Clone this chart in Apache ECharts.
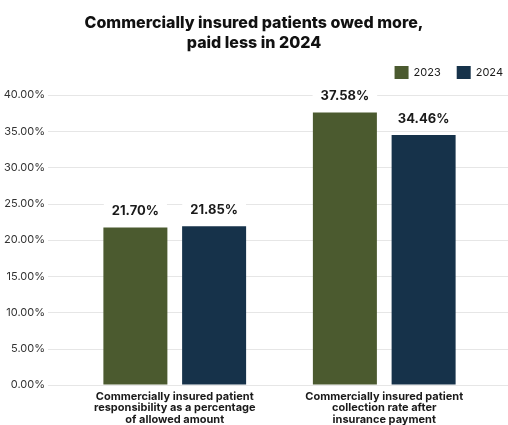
<!DOCTYPE html>
<html><head><meta charset="utf-8">
<script src="https://cdn.jsdelivr.net/npm/echarts@6/dist/echarts.min.js"></script>
<style>html,body{margin:0;padding:0;background:#fff}#c{width:508px;height:425px}</style>
</head><body><div id="c"></div>
<script>
const categories = ["Commercially insured patient\nresponsibility as a percentage\nof allowed amount", "Commercially insured patient\ncollection rate after\ninsurance payment"];
const seriesNames = ["2023", "2024"];
const values2023 = [21.70, 37.58];
const values2024 = [21.85, 34.46];
const yTicks = [0, 5, 10, 15, 20, 25, 30, 35, 40];

const FONT = 'Inter, "Noto Sans", sans-serif';
const colors = ['#4b5a2f', '#16324a'];
const chart = echarts.init(document.getElementById('c'), null, {renderer: 'canvas'});
const labelOpt = {
  show: true, position: 'top', distance: 6,
  formatter: p => p.value.toFixed(2) + '%',
  fontFamily: FONT, fontWeight: 'bold', fontSize: 13, color: '#1a1a1a',
  backgroundColor: '#fff', padding: [2, 8, 4, 8]
};
chart.setOption({
  animation: false,
  title: {
    text: 'Commercially insured patients owed more,\npaid less in 2024',
    left: 'center', top: 8,
    textStyle: {fontFamily: FONT, fontWeight: 800, fontSize: 16, color: '#111', lineHeight: 20}
  },
  legend: {
    data: seriesNames, right: 0, top: 61, itemWidth: 14, itemHeight: 13, itemGap: 16,
    icon: 'rect',
    textStyle: {fontFamily: FONT, fontSize: 11, color: '#1a1a1a'}
  },
  grid: [
    {left: 48, right: 0, top: 95, bottom: 40},
    {left: 70, right: 19, top: 95, bottom: 40}
  ],
  xAxis: [
    {type: 'category', gridIndex: 0, data: [''], show: false},
    {type: 'category', gridIndex: 1, data: categories,
     axisLine: {show: false}, axisTick: {show: false},
     axisLabel: {fontFamily: FONT, fontWeight: 'bold', fontSize: 11, color: '#1a1a1a', lineHeight: 11.5, margin: 6, interval: 0}}
  ],
  yAxis: [
    {type: 'value', gridIndex: 0, min: yTicks[0], max: yTicks[yTicks.length - 1], interval: 5,
     axisLabel: {formatter: v => v.toFixed(2) + '%', fontFamily: FONT, fontSize: 11, color: '#333', margin: 3},
     axisLine: {show: false}, axisTick: {show: false},
     splitLine: {lineStyle: {color: '#e6e6e6', width: 1}}},
    {type: 'value', gridIndex: 1, min: yTicks[0], max: yTicks[yTicks.length - 1], interval: 5, show: false}
  ],
  series: [
    {name: seriesNames[0], type: 'bar', xAxisIndex: 1, yAxisIndex: 1, data: values2023, barWidth: 64, barGap: '23%',
     itemStyle: {color: colors[0]}, label: labelOpt},
    {name: seriesNames[1], type: 'bar', xAxisIndex: 1, yAxisIndex: 1, data: values2024, barWidth: 64, barGap: '23%',
     itemStyle: {color: colors[1]}, label: labelOpt}
  ]
});
</script></body></html>
